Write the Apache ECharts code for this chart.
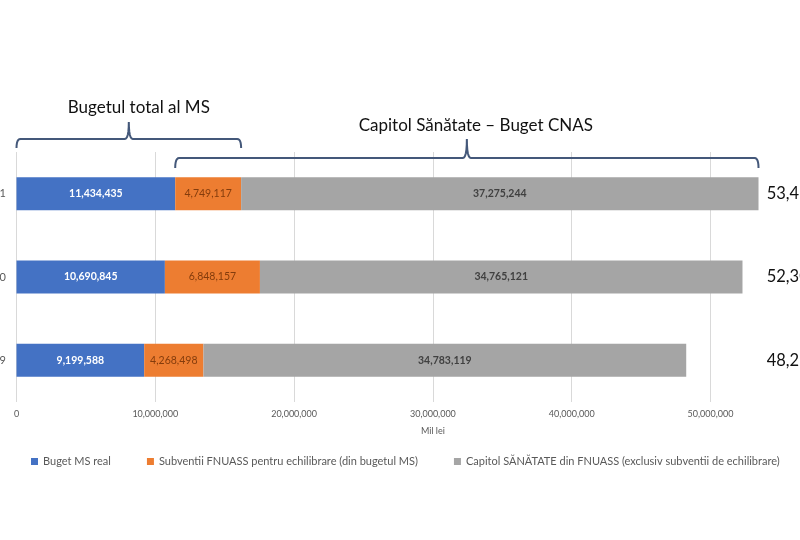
<!DOCTYPE html>
<html>
<head>
<meta charset="utf-8">
<script src="https://cdn.jsdelivr.net/npm/echarts@6/dist/echarts.min.js"></script>
<style>
  html, body { margin: 0; padding: 0; background: #fff; }
  #chart { width: 800px; height: 540px; }
</style>
</head>
<body>
<div id="chart"></div>
<script>
// ---- data ----
const years = ['2019', '2020', '2021'];
const bugetMS = [9199588, 10690845, 11434435];
const subventii = [4268498, 6848157, 4749117];
const capitol = [34783119, 34765121, 37275244];
const seriesNames = [
  'Buget MS real',
  'Subventii FNUASS pentru echilibrare (din bugetul MS)',
  'Capitol SĂNĂTATE din FNUASS (exclusiv subventii de echilibrare)'
];
const braceTitles = ['Bugetul total al MS', 'Capitol Sănătate – Buget CNAS'];
const axisName = 'Mil lei';

const totals = years.map((_, i) => bugetMS[i] + subventii[i] + capitol[i]);
const fmt = v => Number(v).toLocaleString('en-US');

const FONT = 'Lato, "Open Sans", sans-serif';
const chart = echarts.init(document.getElementById('chart'), null, { renderer: 'canvas' });

const option = {
  backgroundColor: '#ffffff',
  animation: false,
  textStyle: { fontFamily: FONT },
  grid: { left: 16.5, right: -49.3, top: 152, bottom: 138, containLabel: false, outerBoundsMode: 'none' },
  legend: {
    left: 26, top: 451,
    icon: 'rect', itemWidth: 7, itemHeight: 7, itemGap: 36,
    textStyle: { color: '#595959', fontSize: 11, fontFamily: FONT },
    data: seriesNames
  },
  xAxis: {
    type: 'value', min: 0, max: 60000000, interval: 10000000,
    name: axisName, nameLocation: 'middle', nameGap: 25,
    nameTextStyle: { color: '#595959', fontSize: 9, fontFamily: FONT },
    axisLine: { show: false }, axisTick: { show: false },
    axisLabel: { color: '#595959', fontSize: 9, margin: 8, formatter: v => fmt(v) },
    splitLine: { show: true, lineStyle: { color: '#D9D9D9', width: 1 } }
  },
  yAxis: [
    {
      type: 'category', data: years,
      axisLine: { show: false }, axisTick: { show: false },
      axisLabel: { color: '#595959', fontSize: 11, margin: 10.5 }
    },
    {
      type: 'category', data: totals.map(fmt), position: 'right', offset: -82.6,
      axisLine: { show: false }, axisTick: { show: false }, splitLine: { show: false },
      axisLabel: { color: '#111111', fontSize: 16.5, margin: 0, align: 'left' }
    }
  ],
  series: [
    {
      name: seriesNames[0], type: 'bar', stack: 'total', barWidth: 33,
      itemStyle: { color: '#4472C4' }, data: bugetMS,
      label: { show: true, position: 'inside', color: '#ffffff', fontWeight: 'bold', fontSize: 10.5, formatter: p => fmt(p.value) }
    },
    {
      name: seriesNames[1], type: 'bar', stack: 'total', barWidth: 33,
      itemStyle: { color: '#ED7D31' }, data: subventii,
      label: { show: true, position: 'inside', color: '#843c0c', fontSize: 10.5, formatter: p => fmt(p.value) }
    },
    {
      name: seriesNames[2], type: 'bar', stack: 'total', barWidth: 33,
      itemStyle: { color: '#A5A5A5' }, data: capitol,
      label: { show: true, position: 'inside', color: '#404040', fontWeight: 'bold', fontSize: 10.5, formatter: p => fmt(p.value) }
    }
  ]
};
chart.setOption(option);

// ---- braces computed from the data through the axis ----
const lastIdx = years.length - 1;
const px = v => chart.convertToPixel({ xAxisIndex: 0 }, v);
function quad(p0, p1, p2, n) {
  const pts = [];
  for (let k = 1; k <= n; k++) {
    const t = k / n, u = 1 - t;
    pts.push([u * u * p0[0] + 2 * u * t * p1[0] + t * t * p2[0], u * u * p0[1] + 2 * u * t * p1[1] + t * t * p2[1]]);
  }
  return pts;
}
function bracePoints(x0, x1, yLine, yTip, yTop) {
  const mid = (x0 + x1) / 2, r = 4;
  let pts = [[x0, yTip]];
  pts = pts.concat(quad([x0, yTip], [x0, yLine], [x0 + r, yLine], 6));
  pts.push([mid - r, yLine]);
  pts = pts.concat(quad([mid - r, yLine], [mid, yLine], [mid, yTop], 6));
  pts = pts.concat(quad([mid, yTop], [mid, yLine], [mid + r, yLine], 6));
  pts.push([x1 - r, yLine]);
  pts = pts.concat(quad([x1 - r, yLine], [x1, yLine], [x1, yTip], 6));
  return pts;
}
const b1x0 = px(0), b1x1 = px(bugetMS[lastIdx] + subventii[lastIdx]);
const b2x0 = px(bugetMS[lastIdx]), b2x1 = px(totals[lastIdx]);
const braceColor = '#44587a';
chart.setOption({
  graphic: [
    { type: 'polyline', shape: { points: bracePoints(b1x0, b1x1, 139, 148, 122) }, style: { stroke: braceColor, lineWidth: 2, fill: null } },
    { type: 'polyline', shape: { points: bracePoints(b2x0, b2x1, 158, 168, 139) }, style: { stroke: braceColor, lineWidth: 2, fill: null } },
    { type: 'text', x: (b1x0 + b1x1) / 2 + 10, y: 108, style: { text: braceTitles[0], font: '17px ' + FONT, fill: '#111111', textAlign: 'center', textVerticalAlign: 'middle' } },
    { type: 'text', x: (b2x0 + b2x1) / 2 + 9, y: 126, style: { text: braceTitles[1], font: '17px ' + FONT, fill: '#111111', textAlign: 'center', textVerticalAlign: 'middle' } }
  ]
});
</script>
</body>
</html>
